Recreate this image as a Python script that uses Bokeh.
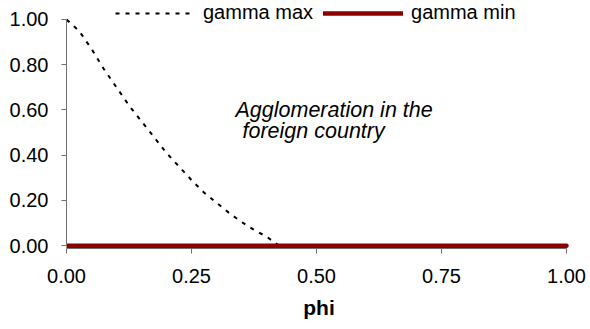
from bokeh.plotting import figure
from bokeh.models import (Range1d, FixedTicker, NumeralTickFormatter, Legend, LegendItem,
                          Label)
from bokeh.embed import file_html
from bokeh.resources import INLINE

# ---- data ----
phi_max = [0.0, 0.025, 0.05, 0.075, 0.1, 0.125, 0.15, 0.175, 0.2, 0.225, 0.25,
           0.275, 0.3, 0.325, 0.35, 0.375, 0.4, 0.425]
gamma_max = [1.0, 0.95, 0.87, 0.78, 0.70, 0.62, 0.55, 0.48, 0.41, 0.35, 0.29,
             0.235, 0.19, 0.145, 0.105, 0.07, 0.04, 0.0]
phi_min = [0.0, 0.25, 0.5, 0.75, 1.0]
gamma_min = [0.0, 0.0, 0.0, 0.0, 0.0]
x_ticks = [0.0, 0.25, 0.5, 0.75, 1.0]
y_ticks = [0.0, 0.2, 0.4, 0.6, 0.8, 1.0]
series_names = ["gamma max", "gamma min"]
annotation_lines = ["Agglomeration in the", "foreign country"]
x_label = "phi"

FONT = "Liberation Sans"
AXIS_COL = "#707070"

p = figure(width=590, height=329, output_backend="svg", toolbar_location=None,
           x_range=Range1d(0.0, 1.01), y_range=Range1d(-0.0125, 1.084),
           min_border_left=66, min_border_right=19, min_border_top=0,
           min_border_bottom=81)
p.outline_line_color = None
p.grid.visible = False
p.background_fill_color = "white"
p.border_fill_color = "white"

r_max = p.line(phi_max, gamma_max, line_color="black", line_width=2, line_dash="4 6")
r_min = p.line(phi_min, gamma_min, line_color="#8B0000", line_width=4.5, line_cap="round")

for ax in (p.xaxis[0], p.yaxis[0]):
    ax.axis_line_color = AXIS_COL
    ax.major_tick_line_color = AXIS_COL
    ax.major_tick_in = 0
    ax.major_tick_out = 5
    ax.minor_tick_line_color = None
    ax.major_label_text_font = FONT
    ax.major_label_text_font_size = "20px"
    ax.major_label_text_color = "black"
    ax.formatter = NumeralTickFormatter(format="0.00")
    ax.bounds = (0, 1)

p.xaxis.ticker = FixedTicker(ticks=x_ticks)
p.yaxis.ticker = FixedTicker(ticks=y_ticks)
p.yaxis.major_label_standoff = 13
p.xaxis.major_label_standoff = 15
p.xaxis.axis_label = x_label
p.xaxis.axis_label_text_font = FONT
p.xaxis.axis_label_text_font_style = "bold"
p.xaxis.axis_label_text_font_size = "21px"
p.xaxis.axis_label_text_color = "black"
p.xaxis.axis_label_standoff = 10

legend = Legend(items=[LegendItem(label=series_names[0], renderers=[r_max]),
                       LegendItem(label=series_names[1], renderers=[r_min])],
                location=(49, 224), orientation="horizontal",
                glyph_width=80, glyph_height=20, label_height=20, label_standoff=8,
                spacing=10, padding=0, margin=0,
                label_text_font=FONT, label_text_font_size="20px",
                label_text_color="black",
                border_line_alpha=0, background_fill_alpha=0)
p.add_layout(legend, "center")

p.add_layout(Label(x=0.338, y=0.598, text=annotation_lines[0], text_font=FONT,
                   text_font_size="21.5px", text_font_style="italic",
                   text_color="black", text_baseline="alphabetic"))
p.add_layout(Label(x=0.352, y=0.505, text=annotation_lines[1], text_font=FONT,
                   text_font_size="21.5px", text_font_style="italic",
                   text_color="black", text_baseline="alphabetic"))

open("out.html", "w").write(file_html(p, INLINE))
